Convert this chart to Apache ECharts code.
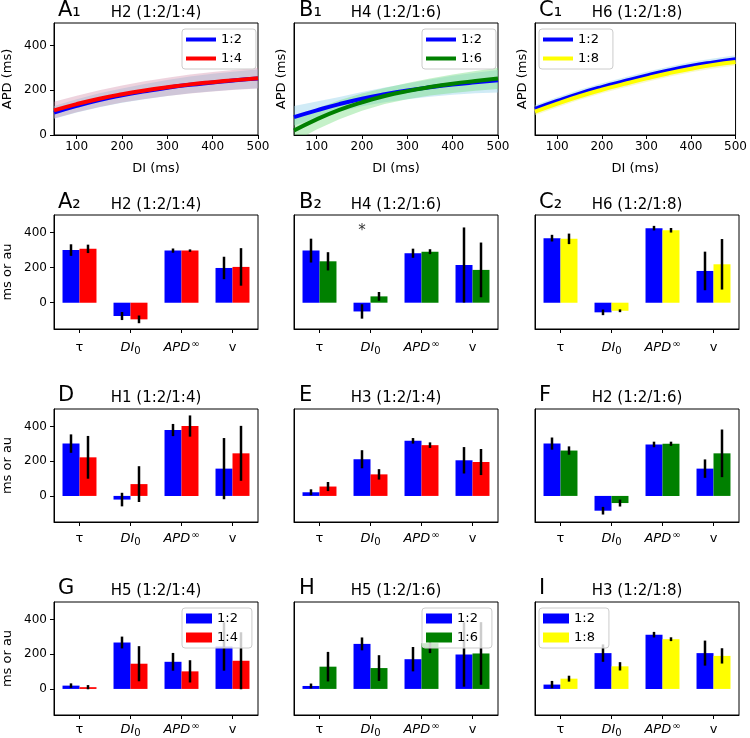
<!DOCTYPE html>
<html><head><meta charset="utf-8">
<script src="https://cdn.jsdelivr.net/npm/echarts@6/dist/echarts.min.js"></script>
<style>html,body{margin:0;padding:0;background:#fff}#c{width:750px;height:738px}</style>
</head><body><div id="c"></div>
<script>
// ---------------- data ----------------
const DI = [50,100,150,200,250,300,350,400,450,500];
const diTicks = [100,200,300,400,500];
const apdTicks = [0,200,400];

// A1  H2 (1:2/1:4)
const A1_12    = [100,130,156,177,195,211,224,234,244,252];
const A1_12_lo = [72,100,124,144,160,174,186,195,203,209];
const A1_12_hi = [130,160,186,208,228,246,261,273,284,293];
const A1_14    = [110,138,162,182,199,213,226,236,245,253];
const A1_14_lo = [74,102,125,145,161,174,185,194,202,208];
const A1_14_hi = [148,175,200,221,240,256,270,281,291,300];
// B1  H4 (1:2/1:6)
const B1_12    = [80,110,138,162,182,199,213,225,235,244];
const B1_12_lo = [42,75,104,128,146,160,171,180,186,190];
const B1_12_hi = [130,150,170,192,212,230,248,264,278,290];
const B1_16    = [20,70,112,146,174,196,214,229,241,252];
const B1_16_lo = [-30,25,70,108,138,160,176,188,197,205];
const B1_16_hi = [75,118,155,185,210,232,252,270,286,300];
// C1  H6 (1:2/1:8)
const C1_12    = [117,152,185,214,240,265,288,308,324,338];
const C1_12_lo = [100,135,168,197,223,248,270,290,306,320];
const C1_12_hi = [134,169,202,231,257,282,305,326,342,356];
const C1_18    = [104,140,173,202,228,253,276,296,313,326];
const C1_18_lo = [88,124,157,186,212,237,260,280,297,310];
const C1_18_hi = [120,156,189,218,244,269,292,312,329,342];

// bar panels: categories tau, DI0, APDinf, v
const categories = ['τ','DI0','APD∞','v'];
const barTicks = [0,200,400];
const A2_12=[300,-76,297,198], A2_12_err=[33,23,12,64],  A2_14=[307,-95,297,204], A2_14_err=[24,22,7,107];
const B2_12=[297,-50,282,215], B2_12_err=[68,41,26,214], B2_16=[236,36,291,187],  B2_16_err=[52,25,14,156];
const C2_12=[368,-55,425,181], C2_12_err=[19,16,13,110], C2_18=[364,-46,413,219], C2_18_err=[30,8,13,144];
const D_12=[301,-21,379,157],  D_12_err=[53,39,35,176],  D_14=[222,68,402,245],   D_14_err=[123,103,61,158];
const E_12=[21,211,317,205],   E_12_err=[17,52,16,76],   E_14=[54,124,292,195],   E_14_err=[26,30,16,75];
const F_12=[301,-85,296,157],  F_12_err=[35,22,16,53],   F_16=[261,-41,300,245],  F_16_err=[24,20,12,137];
const G_12=[19,267,156,244],   G_12_err=[13,34,51,139],  G_14=[10,145,101,162],   G_14_err=[12,101,64,164];
const H_12=[17,259,171,198],   H_12_err=[14,37,70,185],  H_16=[128,120,263,204],  H_16_err=[85,74,57,180];
const I_12=[25,206,312,206],   I_12_err=[21,50,16,72],   I_18=[59,130,286,190],   I_18_err=[17,24,11,44];
const asteriskB2 = {category: 1, value: 410};

// ---------------- styling / layout ----------------
const BLUE='#0000ff', RED='#ff0000', GREEN='#008000', YELLOW='#ffff00';
const BAND_BLUE='rgba(150,210,235,0.45)', BAND_RED='rgba(205,130,160,0.35)',
      BAND_GREEN='rgba(110,220,120,0.40)', BAND_YELLOW='rgba(240,240,140,0.45)';
const FONT='DejaVu Sans';
const colX=[54,294,535], W=204;
const rowTop=[23,215,409,602], rowH=[112,114,113,114], titleY=[12,204,397,590];
const catMargin=[0,10,8,6];
const letterX=[58,299,539];

const linePanels = [
  {letter:'A₁', title:'H2 (1:2/1:4)', legend:'right', lines:[
    {name:'1:2', color:BLUE, y:A1_12, lo:A1_12_lo, hi:A1_12_hi, band:BAND_BLUE},
    {name:'1:4', color:RED,  y:A1_14, lo:A1_14_lo, hi:A1_14_hi, band:BAND_RED}]},
  {letter:'B₁', title:'H4 (1:2/1:6)', legend:'right', lines:[
    {name:'1:2', color:BLUE,  y:B1_12, lo:B1_12_lo, hi:B1_12_hi, band:BAND_BLUE},
    {name:'1:6', color:GREEN, y:B1_16, lo:B1_16_lo, hi:B1_16_hi, band:BAND_GREEN}]},
  {letter:'C₁', title:'H6 (1:2/1:8)', legend:'left', lines:[
    {name:'1:2', color:BLUE,   y:C1_12, lo:C1_12_lo, hi:C1_12_hi, band:BAND_BLUE},
    {name:'1:8', color:YELLOW, y:C1_18, lo:C1_18_lo, hi:C1_18_hi, band:BAND_YELLOW}]}
];
const barPanels = [
  {letter:'A₂', title:'H2 (1:2/1:4)', b:[[A2_12,A2_12_err,'1:2',BLUE],[A2_14,A2_14_err,'1:4',RED]]},
  {letter:'B₂', title:'H4 (1:2/1:6)', b:[[B2_12,B2_12_err,'1:2',BLUE],[B2_16,B2_16_err,'1:6',GREEN]], star:true},
  {letter:'C₂', title:'H6 (1:2/1:8)', b:[[C2_12,C2_12_err,'1:2',BLUE],[C2_18,C2_18_err,'1:8',YELLOW]]},
  {letter:'D', title:'H1 (1:2/1:4)', b:[[D_12,D_12_err,'1:2',BLUE],[D_14,D_14_err,'1:4',RED]]},
  {letter:'E', title:'H3 (1:2/1:4)', b:[[E_12,E_12_err,'1:2',BLUE],[E_14,E_14_err,'1:4',RED]]},
  {letter:'F', title:'H2 (1:2/1:6)', b:[[F_12,F_12_err,'1:2',BLUE],[F_16,F_16_err,'1:6',GREEN]]},
  {letter:'G', title:'H5 (1:2/1:4)', b:[[G_12,G_12_err,'1:2',BLUE],[G_14,G_14_err,'1:4',RED]], legend:'right'},
  {letter:'H', title:'H5 (1:2/1:6)', b:[[H_12,H_12_err,'1:2',BLUE],[H_16,H_16_err,'1:6',GREEN]], legend:'right'},
  {letter:'I', title:'H3 (1:2/1:8)', b:[[I_12,I_12_err,'1:2',BLUE],[I_18,I_18_err,'1:8',YELLOW]], legend:'left'}
];

const grid=[], xAxis=[], yAxis=[], series=[], legend=[], graphic=[];
const axisLineStyle={show:true, onZero:false, lineStyle:{color:'#000', width:1}};
const labelStyle={color:'#000', fontSize:12, fontFamily:FONT};

function addTitle(letter, title, col, row){
  graphic.push({type:'text', x:letterX[col], y:titleY[row]-1, style:{text:letter, font:'21px "DejaVu Sans"', fill:'#000', textAlign:'left', textVerticalAlign:'middle'}});
  graphic.push({type:'text', x:colX[col]+W/2, y:titleY[row]+1, style:{text:title, font:'15px "DejaVu Sans"', fill:'#000', textAlign:'center', textVerticalAlign:'middle'}});
}
function legendBox(names, col, row, side, iw, ih){
  const left = side==='right' ? colX[col]+W-76 : colX[col]+4;
  legend.push({
    data:names, left:left, top:rowTop[row]+6, orient:'vertical', icon:'rect',
    itemWidth:iw, itemHeight:ih, itemGap:6, padding:[4,14,4,4], selectedMode:false,
    borderColor:'#cccccc', borderWidth:1, borderRadius:3, backgroundColor:'rgba(255,255,255,0.8)',
    textStyle:{fontSize:13, color:'#000', fontFamily:FONT},
    formatter:n=>n.split('|')[1], z:10
  });
}
function bandRender(xs, lo, hi, color){
  return function(params, api){
    const pts=[];
    for(let i=0;i<xs.length;i++) pts.push(api.coord([xs[i], hi[i]]));
    for(let i=xs.length-1;i>=0;i--) pts.push(api.coord([xs[i], lo[i]]));
    const cs=params.coordSys;
    return {type:'polygon', shape:{points:pts}, style:{fill:color},
      clipPath:{type:'rect', shape:{x:cs.x, y:cs.y, width:cs.width, height:cs.height}}};
  };
}

// ---- line panels ----
linePanels.forEach((p,col)=>{
  const gi=grid.length;
  grid.push({left:colX[col], top:rowTop[0], width:W, height:rowH[0], show:true, borderColor:'#000', borderWidth:1});
  xAxis.push({type:'value', gridIndex:gi, min:50, max:500,
    axisLine:axisLineStyle, axisTick:{show:true, length:4, customValues:diTicks, lineStyle:{color:'#000'}},
    axisLabel:Object.assign({customValues:diTicks, margin:6}, labelStyle), splitLine:{show:false},
    name:'DI (ms)', nameLocation:'middle', nameGap:27, nameTextStyle:{fontSize:13, color:'#000', fontFamily:FONT}});
  const showY = col===0;
  yAxis.push({type:'value', gridIndex:gi, min:0, max:500,
    axisLine:axisLineStyle, axisTick:{show:showY, length:4, customValues:apdTicks, lineStyle:{color:'#000'}},
    axisLabel:Object.assign({show:showY, customValues:apdTicks, margin:7}, labelStyle), splitLine:{show:false},
    name:'APD (ms)', nameLocation:'middle', nameRotate:90, nameGap: showY?40:6, nameTextStyle:{fontSize:13, color:'#000', fontFamily:FONT}});
  p.lines.forEach(l=>{
    series.push({type:'custom', xAxisIndex:gi, yAxisIndex:gi, silent:true, z:1,
      renderItem:bandRender(DI, l.lo, l.hi, l.band), encode:{x:0, y:1}, data:[[DI[0], l.y[0]]]});
  });
  p.lines.forEach(l=>{
    series.push({type:'line', name:p.letter+'|'+l.name, xAxisIndex:gi, yAxisIndex:gi, smooth:true, symbol:'none',
      color:l.color, lineStyle:{color:l.color, width:4}, data:DI.map((x,i)=>[x,l.y[i]]), z:3});
  });
  legendBox(p.lines.map(l=>p.letter+'|'+l.name), col, 0, p.legend, 30, 4);
  addTitle(p.letter, p.title, col, 0);
});

// ---- bar panels ----
const catFormatter = v => ({'τ':'{n|τ}','DI0':'{i|DI}{sub|0}','APD∞':'{i|APD}{sup|∞}','v':'{n|v}'}[v]);
const rich = {
  n:{fontSize:13, color:'#000', fontFamily:FONT, lineHeight:17},
  i:{fontSize:13, color:'#000', fontFamily:FONT, fontStyle:'italic', lineHeight:17},
  sub:{fontSize:10, color:'#000', fontFamily:FONT, lineHeight:10, verticalAlign:'bottom'},
  sup:{fontSize:10, color:'#000', fontFamily:FONT, lineHeight:10, verticalAlign:'top', padding:[0,0,0,1]}
};
function errRender(side){
  return function(params, api){
    const ci=api.value(0);
    const a=api.coord([ci, api.value(1)]), b=api.coord([ci, api.value(2)]);
    const w=api.size([1,0])[0];
    const x=a[0]+side*w/6;
    return {type:'line', shape:{x1:x, y1:a[1], x2:x, y2:b[1]}, style:{stroke:'#000', lineWidth:2.5}};
  };
}
barPanels.forEach((p,idx)=>{
  const col=idx%3, row=1+Math.floor(idx/3);
  const gi=grid.length;
  grid.push({left:colX[col], top:rowTop[row], width:W, height:rowH[row], show:true, borderColor:'#000', borderWidth:1});
  xAxis.push({type:'category', gridIndex:gi, data:categories,
    axisLine:axisLineStyle, axisTick:{show:true, alignWithLabel:true, length:4, lineStyle:{color:'#000'}},
    axisLabel:{margin:catMargin[row], formatter:catFormatter, rich:rich, interval:0}, splitLine:{show:false}});
  const showY = col===0;
  yAxis.push({type:'value', gridIndex:gi, min:-150, max:500,
    axisLine:axisLineStyle, axisTick:{show:showY, length:4, customValues:barTicks, lineStyle:{color:'#000'}},
    axisLabel:Object.assign({show:showY, customValues:barTicks, margin:7}, labelStyle), splitLine:{show:false},
    name: showY?'ms or au':'', nameLocation:'middle', nameRotate:90, nameGap:40, nameTextStyle:{fontSize:13, color:'#000', fontFamily:FONT}});
  p.b.forEach((s,k)=>{
    const ser={type:'bar', name:p.letter+'|'+s[2], xAxisIndex:gi, yAxisIndex:gi, data:s[0], barWidth:'33.3%', barGap:'0%',
      color:s[3], itemStyle:{color:s[3]}, z:2};
    if(p.star && k===0){
      ser.markPoint={symbol:'circle', symbolSize:1, itemStyle:{color:'rgba(0,0,0,0)'},
        label:{show:true, position:'inside', formatter:'*', fontSize:15, color:'#333', fontFamily:FONT},
        data:[{coord:[asteriskB2.category, asteriskB2.value]}]};
    }
    series.push(ser);
  });
  p.b.forEach((s,k)=>{
    series.push({type:'custom', xAxisIndex:gi, yAxisIndex:gi, silent:true, z:3,
      renderItem:errRender(k===0?-1:1), encode:{x:0, y:[1,2]},
      data:s[0].map((v,i)=>[i, v-s[1][i], v+s[1][i]])});
  });
  if(p.legend) legendBox(p.b.map(s=>p.letter+'|'+s[2]), col, row, p.legend, 26, 10);
  addTitle(p.letter, p.title, col, row);
});

const chart = echarts.init(document.getElementById('c'), null, {renderer:'canvas'});
chart.setOption({
  animation:false, backgroundColor:'#fff',
  textStyle:{fontFamily:FONT},
  grid, xAxis, yAxis, series, legend, graphic
});
</script></body></html>
